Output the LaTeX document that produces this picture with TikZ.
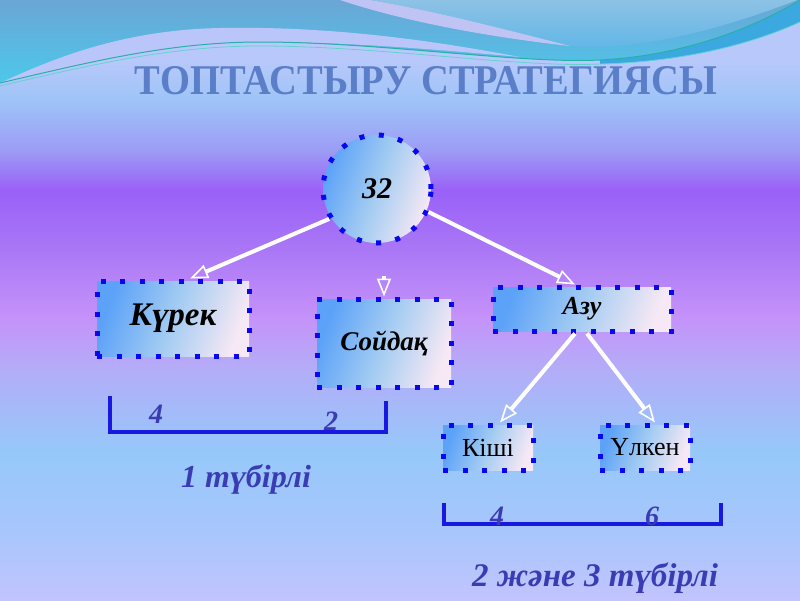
\documentclass[tikz,border=0pt]{standalone}
\usepackage{fontspec}
\usepackage{graphicx}
\setmainfont{Liberation Serif}
\usetikzlibrary{arrows.meta,positioning,shapes}
\definecolor{dotblue}{HTML}{0808F0}
\definecolor{barblue}{HTML}{1818E0}
\definecolor{numink}{HTML}{3A3CB4}
\definecolor{titleink}{HTML}{5A7EC8}
\definecolor{cardblue}{HTML}{5CA2F8}
\definecolor{cardmid}{HTML}{A4CCF2}
\definecolor{cardpink}{HTML}{F6E8F4}
\definecolor{topblue}{HTML}{6AA6D6}
\definecolor{topcyan}{HTML}{4CC8EA}
\definecolor{skyhigh}{HTML}{8EC2E4}
\definecolor{skylow}{HTML}{5EB6E8}
\definecolor{wavelav}{HTML}{C0C4F4}
\definecolor{bandlav}{HTML}{BAC6FA}
\definecolor{ribbon}{HTML}{3CA8E0}
\definecolor{tealline}{HTML}{28B0A8}
\definecolor{tealpale}{HTML}{66D2D0}
\definecolor{bgA}{HTML}{B8C8FA}
\definecolor{bgB}{HTML}{9EC4F8}
\definecolor{bgC}{HTML}{9C9CF5}
\definecolor{bgD}{HTML}{9A60F8}
\definecolor{bgE}{HTML}{AA78F6}
\definecolor{bgF}{HTML}{C592FA}
\definecolor{bgG}{HTML}{B4ACF8}
\definecolor{bgH}{HTML}{96C8FA}
\definecolor{bgI}{HTML}{A8C6FC}
\definecolor{bgJ}{HTML}{C2C4FE}
\tikzset{
  dotbox/.style={draw=dotblue,line width=5pt,dash pattern=on 5pt off 14.5pt,
                 left color=cardblue,right color=cardpink,middle color=cardmid,
                 shading angle=70,inner sep=0pt,align=center},
  rootcirc/.style={dotbox,circle,minimum size=108pt,
                   font=\bfseries\itshape\fontsize{30}{32}\selectfont},
  wordbox/.style={dotbox,font=\bfseries\itshape\fontsize{#1}{#1}\selectfont},
  leafbox/.style={dotbox,minimum width=90pt,minimum height=45pt,
                  font=\fontsize{26}{28}\selectfont},
  whitearr/.style={draw=white,line width=4pt,
                   -{Triangle[open,length=18pt,width=14pt,line width=1.6pt]}},
  barline/.style={draw=barblue,line width=4pt},
  numlbl/.style={text=numink,anchor=base,
                 font=\bfseries\itshape\fontsize{28}{30}\selectfont},
  rootlbl/.style={text=numink,anchor=base,
                  font=\bfseries\itshape\fontsize{#1}{#1}\selectfont},
  titletext/.style={text=titleink,inner sep=0pt,
                    font=\bfseries\fontsize{40}{42}\selectfont}
}
\begin{document}
\begin{tikzpicture}[x=1pt,y=-1pt]
  \path[use as bounding box] (0,0) rectangle (800,600);
  \foreach \ya/\yb/\ca/\cb in {0/61/bgA/bgA,60/101/bgA/bgB,100/151/bgB/bgC,
      150/191/bgC/bgD,190/251/bgD/bgE,250/318/bgE/bgF,317/368/bgF/bgG,
      367/451/bgG/bgH,450/534/bgH/bgI,533/600/bgI/bgJ}
    \shade[top color=\ca,bottom color=\cb] (0,\ya) rectangle (800,\yb);

  % wave on top
  \shade[top color=topblue,bottom color=topcyan]
    (0,0) -- (800,0)
    .. controls (750,30) and (680,56) .. (600,60)
    .. controls (520,64) and (380,42) .. (260,42)
    .. controls (170,42) and (90,62) .. (0,83) -- cycle;
  \shade[top color=skyhigh,bottom color=skylow]
    (370,0) .. controls (430,10) and (500,28) .. (570,46)
    .. controls (650,52) and (740,22) .. (800,-1) -- cycle;
  \fill[wavelav]
    (370,0) .. controls (430,10) and (500,28) .. (570,46)
    .. controls (480,36) and (400,20) .. (340,0) -- cycle;
  \fill[bandlav]
    (0,83) .. controls (50,60) and (120,30) .. (220,28)
    .. controls (330,26) and (430,40) .. (520,57)
    .. controls (400,46) and (330,42) .. (260,42)
    .. controls (170,42) and (90,62) .. (0,83) -- cycle;
  \fill[ribbon]
    (600,60) .. controls (680,56) and (750,30) .. (800,0) -- (800,22)
    .. controls (750,45) and (680,62) .. (600,64) -- cycle;
  \draw[tealline,line width=1pt]
    (0,83) .. controls (90,62) and (170,42) .. (260,42)
    .. controls (380,42) and (520,64) .. (600,60)
    .. controls (680,56) and (750,30) .. (800,0);
  \draw[tealpale,line width=0.8pt]
    (0,86) .. controls (90,65) and (170,46) .. (260,46)
    .. controls (380,46) and (520,68) .. (600,64)
    .. controls (680,62) and (750,45) .. (800,22);

  \node[titletext] (title) at (426,81)
    {\resizebox{582pt}{28pt}{ТОПТАСТЫРУ СТРАТЕГИЯСЫ}};

  \node[rootcirc] (root) at (377,189) {32};
  \node[wordbox=33,minimum width=152pt,minimum height=75pt] (kurek)
    at (173,318.5) {Күрек};
  \node[wordbox=27,minimum width=134pt,minimum height=88pt] (soidaq)
    at (384,343) {Сойдақ};
  \node[wordbox=26,minimum width=178pt,minimum height=44pt] (azu)
    at (582,309) {Азу};
  \node[leafbox] (kishi) at (488,447.5) {Кіші};
  \node[leafbox] (ulken) at (645,447.5) {Үлкен};
  \coordinate (soidtop) at (384,276);

  \draw[whitearr] (root.212) -- ([xshift=17pt]kurek.north);
  \draw[whitearr] (soidtop) -- (soidaq.north);
  \draw[whitearr] (root.-24) -- ([xshift=-7pt]azu.north);
  \draw[whitearr] ([xshift=-7pt]azu.south) -- ([xshift=12pt]kishi.north);
  \draw[whitearr] ([xshift=5pt]azu.south) -- ([xshift=10pt]ulken.north);

  \draw[barline] (110,396) -- (110,432) -- (386,432) -- (386,401);
  \draw[barline] (444,503) -- (444,524) -- (721,524) -- (721,503);

  \node[numlbl] (fourA) at (156,423) {4};
  \node[numlbl] (twoA) at (331,430) {2};
  \node[numlbl] (fourB) at (497,525) {4};
  \node[numlbl] (sixB) at (652,525) {6};
  \node[rootlbl=32] (oneroot) at (246,487) {1 түбірлі};
  \node[rootlbl=33] (tworoot) at (595,586) {2 және 3 түбірлі};
\end{tikzpicture}
\end{document}
